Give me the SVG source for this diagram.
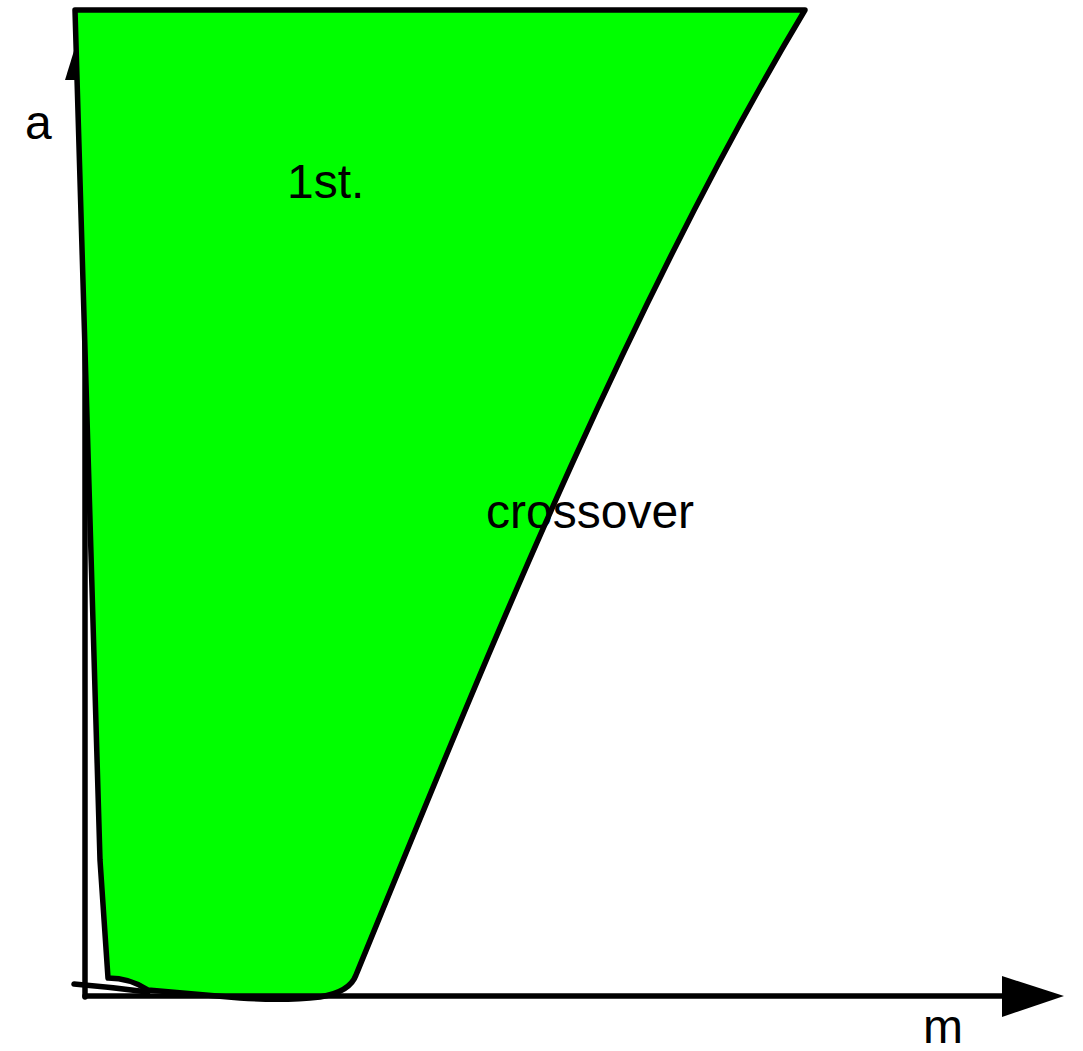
<svg xmlns="http://www.w3.org/2000/svg" width="1083" height="1051" viewBox="0 0 1083 1051">
<style>
.ln{stroke:#000;stroke-width:5.5;fill:none;stroke-linecap:round;stroke-linejoin:round}
.ar{fill:#000;stroke:none}
.t{font-family:"Liberation Sans",Arial,sans-serif;font-size:48px;fill:#000}
</style>
<rect width="1083" height="1051" fill="#fff"/>
<g id="axes">
<line class="ln" x1="85" y1="997" x2="85" y2="75"/>
<polygon class="ar" points="65,80 85,15 105,80"/>
</g>
<g id="region">
<path d="M75,10 L805,10 C625,310 479,675 356,975 Q350,992 320,997 Q285,1001 240,998 L148,990 Q130,978 108,978 L100,860 Z" fill="#00ff00" stroke="#000" stroke-width="5.5" stroke-linejoin="round"/>
<path class="ln" d="M74,984 Q110,987 148,992"/>
</g>
<g id="xaxis">
<line class="ln" x1="85" y1="996" x2="1005" y2="996"/>
<polygon class="ar" points="1002,976 1064,996 1002,1017"/>
</g>
<g id="labels">
<text class="t" x="25" y="139">a</text>
<text class="t" x="287" y="198">1st.</text>
<text class="t" x="486" y="528" font-size="49.5">crossover</text>
<text class="t" x="923" y="1043">m</text>
</g>
</svg>
